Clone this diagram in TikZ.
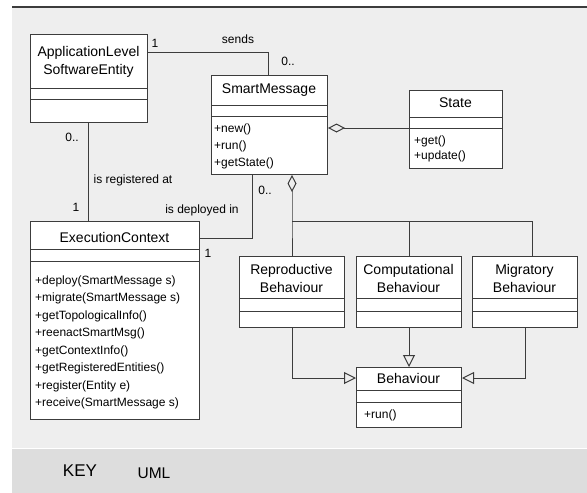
\documentclass[tikz,border=0pt]{standalone}
\usepackage{fontspec}
\setmainfont{Liberation Sans}
\usetikzlibrary{arrows.meta}

\definecolor{paneGray}{RGB}{238,238,238}
\definecolor{keyGray}{RGB}{221,221,221}
\definecolor{edgeGray}{RGB}{60,60,60}

\tikzset{
  classbox/.style={draw=edgeGray, fill=white, line width=1pt, anchor=north west, inner sep=0pt},
  cname/.style={font=\fontsize{14}{18}\selectfont, align=center},
  ops/.style={font=\fontsize{12}{#1}\selectfont, align=left, anchor=west, inner sep=0pt},
  lbl/.style={font=\fontsize{12}{14}\selectfont, inner sep=0pt},
  wire/.style={draw=edgeGray, line width=1pt},
  gen/.style={wire, -{Triangle[open,length=12pt,width=12pt]}},
  agg/.style={wire, {Diamond[open,length=17pt,width=9pt]}-},
}

\begin{document}
\begin{tikzpicture}[x=1pt,y=-1pt]
  \useasboundingbox (0,0) rectangle (587,493);

  % panels
  \fill[paneGray] (12,7) rectangle (587,448);
  \fill[keyGray] (12,448) rectangle (587,493);
  \draw[white, line width=1pt] (12,448) -- (587,448);
  \draw[edgeGray, line width=1.3pt] (12,7) -- (587,7);

  % ApplicationLevelSoftwareEntity
  \node[classbox, minimum width=117pt, minimum height=88pt] (alse) at (30,34) {};
  \draw[wire] (30,88) -- (147,88) (30,99) -- (147,99);
  \node[cname] (alsename) at (88.5,62) {ApplicationLevel\\SoftwareEntity};

  % SmartMessage
  \node[classbox, minimum width=116pt, minimum height=99pt] (sm) at (211,75) {};
  \draw[wire] (211,105) -- (327,105) (211,116) -- (327,116);
  \node[cname] (smname) at (269,90) {SmartMessage};
  \node[ops=17] (smops) at (214,146) {+new()\\+run()\\+getState()};

  % State
  \node[classbox, minimum width=93pt, minimum height=78pt] (state) at (409,90) {};
  \draw[wire] (409,117) -- (502,117) (409,128) -- (502,128);
  \node[cname] (statename) at (455.5,103) {State};
  \node[ops=14.3] (stateops) at (414,149) {+get()\\+update()};

  % ExecutionContext
  \node[classbox, minimum width=169pt, minimum height=198pt] (ec) at (30,221) {};
  \draw[wire] (30,249) -- (199,249) (30,261) -- (199,261);
  \node[cname] (ecname) at (114.5,237) {ExecutionContext};
  \node[ops=17.5] (ecops) at (35,342.5) {+deploy(SmartMessage s)\\+migrate(SmartMessage s)\\+getTopologicalInfo()\\+reenactSmartMsg()\\+getContextInfo()\\+getRegisteredEntities()\\+register(Entity e)\\+receive(SmartMessage s)};

  % behaviours
  \node[classbox, minimum width=105pt, minimum height=71pt] (repro) at (239,256) {};
  \draw[wire] (239,298) -- (344,298) (239,311) -- (344,311);
  \node[cname] (reproname) at (291.5,278) {Reproductive\\Behaviour};

  \node[classbox, minimum width=105pt, minimum height=71pt] (comp) at (356,256) {};
  \draw[wire] (356,298) -- (461,298) (356,311) -- (461,311);
  \node[cname] (compname) at (408.5,278) {Computational\\Behaviour};

  \node[classbox, minimum width=105pt, minimum height=71pt] (mig) at (472,256) {};
  \draw[wire] (472,298) -- (577,298) (472,311) -- (577,311);
  \node[cname] (migname) at (524.5,278) {Migratory\\Behaviour};

  \node[classbox, minimum width=105pt, minimum height=60pt] (beh) at (356,367) {};
  \draw[wire] (356,390) -- (461,390) (356,402) -- (461,402);
  \node[cname] (behname) at (408.5,378) {Behaviour};
  \node[ops=14] (behops) at (364,415) {+run()};

  % associations
  \draw[wire] (alse.east |- 0,52) -| (sm.north -| 268,0);
  \node[lbl] (sendsone) at (155,43) {1};
  \node[lbl] (sends) at (238,39) {sends};
  \node[lbl] (sendsmany) at (288,61) {0..};

  \draw[wire] (alse.south -| 88,0) -- (ec.north -| 88,0);
  \node[lbl] (regmany) at (72,137) {0..};
  \node[lbl] (reg) at (133,180) {is registered at};
  \node[lbl] (regone) at (76,207) {1};

  \draw[wire] (ec.east |- 0,238) -| (sm.south -| 252,0);
  \node[lbl] (dep) at (202,210) {is deployed in};
  \node[lbl] (depone) at (208,253) {1};
  \node[lbl] (depmany) at (265,190) {0..};

  % aggregations
  \draw[agg] (sm.east |- 0,128) -- (state.west |- 0,128);
  \coordinate (fork) at (292,221);
  \draw[agg] (sm.south -| fork) -- (fork) -- (fork |- repro.north);
  \draw[wire] (fork) -| (mig.north -| 532,0);
  \draw[wire] (comp.north) -- (comp.north |- fork);

  % generalisations
  \draw[gen] (repro.south -| 292,0) |- (beh.west |- 0,378);
  \draw[gen] (comp.south) -- (beh.north);
  \draw[gen] (mig.south -| 525,0) |- (beh.east |- 0,378);

  % key
  \node[font=\fontsize{17}{20}\selectfont] (key) at (80,471) {KEY};
  \node[font=\fontsize{15.5}{18}\selectfont] (uml) at (154,473) {UML};
\end{tikzpicture}
\end{document}
